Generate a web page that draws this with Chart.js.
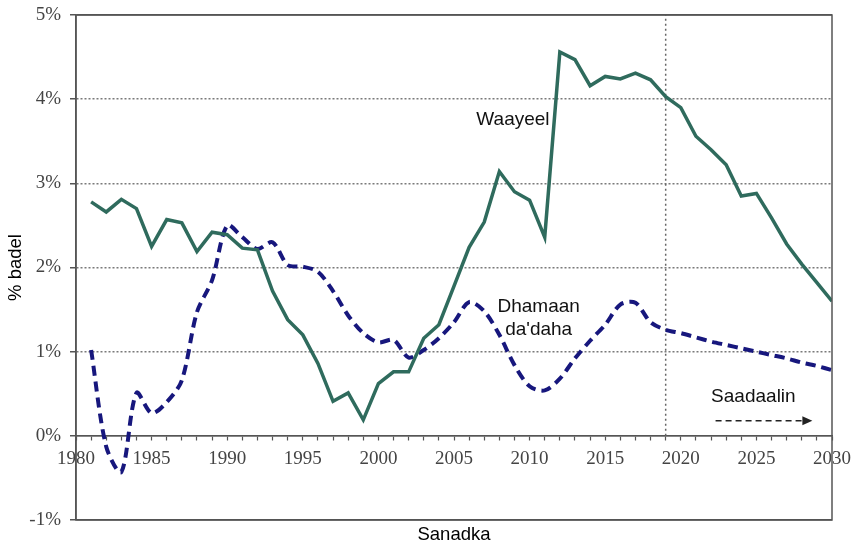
<!DOCTYPE html>
<html>
<head>
<meta charset="utf-8">
<script src="https://cdn.jsdelivr.net/npm/chart.js@4"></script>
<style>
  html, body { margin: 0; padding: 0; background: #fff; }
  #wrap { width: 851px; height: 547px; }
</style>
</head>
<body>
<div id="wrap"><canvas id="myChart"></canvas></div>
<script>
// years and values
var years = [1981, 1982, 1983, 1984, 1985, 1986, 1987, 1988, 1989, 1990,
  1991, 1992, 1993, 1994, 1995, 1996, 1997, 1998, 1999, 2000,
  2001, 2002, 2003, 2004, 2005, 2006, 2007, 2008, 2009, 2010,
  2011, 2012, 2013, 2014, 2015, 2016, 2017, 2018, 2019, 2020,
  2021, 2022, 2023, 2024, 2025, 2026, 2027, 2028, 2029, 2030];

var waayeel = [2.78, 2.66, 2.81, 2.70, 2.25, 2.57, 2.53, 2.19, 2.42, 2.39,
  2.23, 2.21, 1.72, 1.38, 1.20, 0.86, 0.41, 0.51, 0.19, 0.62,
  0.76, 0.76, 1.16, 1.32, 1.78, 2.24, 2.54, 3.14, 2.90, 2.80,
  2.36, 4.56, 4.47, 4.16, 4.27, 4.24, 4.31, 4.23, 4.03, 3.90,
  3.56, 3.40, 3.22, 2.85, 2.88, 2.59, 2.28, 2.04, 1.82, 1.60];

var dhamaan = [1.02, -0.13, -0.43, 0.51, 0.27, 0.40, 0.66, 1.47, 1.85, 2.50,
  2.36, 2.22, 2.30, 2.03, 2.01, 1.95, 1.72, 1.43, 1.22, 1.11,
  1.14, 0.93, 1.02, 1.16, 1.35, 1.59, 1.48, 1.20, 0.84, 0.59,
  0.54, 0.68, 0.92, 1.13, 1.32, 1.56, 1.58, 1.35, 1.26, 1.22,
  1.17, 1.12, 1.08, 1.04, 1.00, 0.96, 0.92, 0.87, 0.83, 0.78];

var yTicks = [-1, 0, 1, 2, 3, 4, 5];
var forecastStart = 2019;
var arrowFrom = [2022.3, 0.18];
var arrowTo = [2028.7, 0.18];

var notes = [
  { text: 'Waayeel', x: 2008.9, y: 3.75 },
  { text: 'Dhamaan', x: 2010.6, y: 1.53 },
  { text: "da'daha", x: 2010.6, y: 1.26 },
  { text: 'Saadaalin', x: 2024.8, y: 0.47 }
];

function toPoints(xs, ys) {
  var out = [];
  for (var i in xs) out.push({ x: xs[i], y: ys[i] });
  return out;
}

function noOverflow(s) {
  s.paddingTop = 0; s.paddingBottom = 0; s.paddingLeft = 0; s.paddingRight = 0;
}

var serif = "'Liberation Serif', 'DejaVu Serif', serif";
var sans = "'Liberation Sans', Arial, sans-serif";

// frame, arrow and text labels
var extras = {
  id: 'extras',
  afterDatasetsDraw: function (chart) {
    var ctx = chart.ctx, a = chart.chartArea;
    var sx = chart.scales.x, sy = chart.scales.y;
    ctx.save();
    ctx.strokeStyle = '#555';
    ctx.lineWidth = 1.5;
    ctx.strokeRect(a.left, a.top, a.right - a.left, a.bottom - a.top);

    var x1 = sx.getPixelForValue(arrowFrom[0]), y1 = sy.getPixelForValue(arrowFrom[1]);
    var x2 = sx.getPixelForValue(arrowTo[0]), y2 = sy.getPixelForValue(arrowTo[1]);
    ctx.strokeStyle = '#222';
    ctx.lineWidth = 1.5;
    ctx.setLineDash([6, 4]);
    ctx.beginPath();
    ctx.moveTo(x1, y1);
    ctx.lineTo(x2 - 8, y2);
    ctx.stroke();
    ctx.setLineDash([]);
    ctx.fillStyle = '#222';
    ctx.beginPath();
    ctx.moveTo(x2, y2);
    ctx.lineTo(x2 - 10, y2 - 4.5);
    ctx.lineTo(x2 - 10, y2 + 4.5);
    ctx.closePath();
    ctx.fill();

    ctx.fillStyle = '#111';
    ctx.font = '19px ' + sans;
    ctx.textAlign = 'center';
    ctx.textBaseline = 'middle';
    notes.forEach(function (n) {
      ctx.fillText(n.text, sx.getPixelForValue(n.x), sy.getPixelForValue(n.y));
    });
    ctx.restore();
  }
};

var data = {
  datasets: [{
    label: 'Waayeel',
    data: toPoints(years, waayeel),
    borderColor: '#2f6b5d',
    borderWidth: 3.5,
    pointRadius: 0,
    tension: 0,
    xAxisID: 'x'
  }, {
    label: "Dhamaan da'daha",
    data: toPoints(years, dhamaan),
    borderColor: '#17177d',
    borderWidth: 4,
    borderDash: [10, 6],
    pointRadius: 0,
    tension: 0.3,
    xAxisID: 'x'
  }, {
    label: 'forecast',
    data: [{ x: forecastStart, y: 0 }, { x: forecastStart, y: 5 }],
    borderColor: '#666',
    borderWidth: 1.5,
    borderDash: [2, 3],
    pointRadius: 0,
    xAxisID: 'x'
  }]
};

var config = {
  type: 'line',
  data: data,
  plugins: [extras],
  options: {
    responsive: true,
    maintainAspectRatio: false,
    animation: false,
    layout: { padding: { top: 15, right: 19, left: 0, bottom: 0 } },
    plugins: {
      legend: { display: false },
      tooltip: { enabled: false },
      title: { display: false }
    },
    scales: {
      x: {
        type: 'linear',
        position: { y: 0 },
        min: 1980,
        max: 2030,
        grid: { drawOnChartArea: false, drawTicks: true, tickLength: 4, tickColor: '#555', tickWidth: 1.2 },
        border: { display: true, color: '#555', width: 1.5 },
        ticks: {
          stepSize: 1,
          autoSkip: false,
          maxRotation: 0,
          padding: 8,
          color: '#444',
          font: { family: serif, size: 19 },
          callback: function (v) { return v % 5 === 0 ? String(v) : ''; }
        },
        afterFit: noOverflow
      },
      x2: {
        type: 'linear',
        position: 'bottom',
        min: 1980,
        max: 2030,
        grid: { display: false },
        border: { display: false },
        ticks: { display: false },
        title: { display: true, text: 'Sanadka', color: '#000', font: { family: sans, size: 18.5 }, padding: { top: 0, bottom: 1 } },
        afterFit: function (s) { noOverflow(s); s.height = 27; }
      },
      y: {
        min: -1,
        max: 5,
        afterBuildTicks: function (s) { s.ticks = yTicks.map(function (v) { return { value: v }; }); },
        grid: {
          color: function (c) { return (c.tick && (c.tick.value === 5 || c.tick.value === -1)) ? '#555' : '#7a7a7a'; },
          lineWidth: 1.5,
          tickLength: 6,
          tickColor: '#555',
          tickBorderDash: []
        },
        border: {
          display: true,
          color: '#555',
          width: 1.5,
          dash: function (c) { return (c.tick && (c.tick.value === 5 || c.tick.value === -1 || c.tick.value === 0)) ? [] : [2, 2]; }
        },
        ticks: {
          padding: 9,
          color: '#444',
          font: { family: serif, size: 19 },
          callback: function (v) { return v + '%'; }
        },
        title: { display: true, text: '% badel', color: '#000', font: { family: sans, size: 18.5 }, padding: { top: 5, bottom: 0 } },
        afterFit: function (s) { noOverflow(s); s.width = 76; }
      }
    }
  }
};

var myChart = new Chart(document.getElementById('myChart'), config);
</script>
</body>
</html>
